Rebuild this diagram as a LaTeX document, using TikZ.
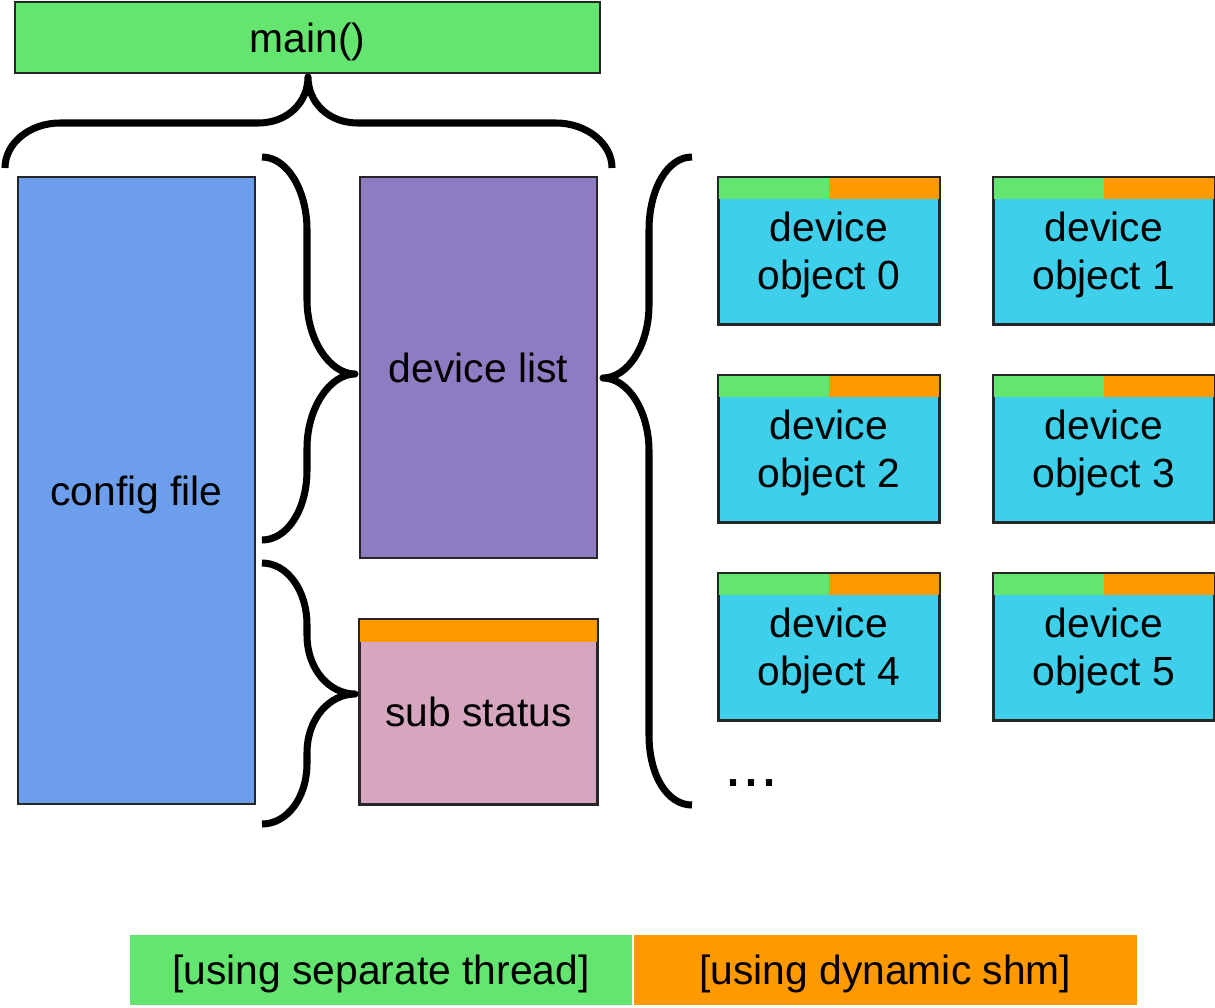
\documentclass[tikz,border=0pt]{standalone}
\usepackage{fontspec}
\setmainfont{Liberation Sans}
\usepackage{tikz}
\usepackage{xcolor}
\usetikzlibrary{positioning}
\definecolor{thread}{HTML}{63E56F}
\definecolor{shm}{HTML}{FF9900}
\definecolor{cfgblue}{HTML}{6D9EEB}
\definecolor{listpurple}{HTML}{8E7CC3}
\definecolor{subpink}{HTML}{D5A6BD}
\definecolor{devcyan}{HTML}{3ECFEB}

\begin{document}
\begin{tikzpicture}[x=0.025cm,y=-0.025cm,
                    box/.style={draw=black!85,line width=1.2pt,inner sep=0pt,text depth=0pt,
                                font=\fontsize{29}{34}\selectfont,align=center},
                    devbox/.style={box,fill=devcyan,minimum width=5.5cm,
                                minimum height=3.65cm,anchor=north west},
                    brace/.style={line width=5pt,line join=round}]
                            % Frame
                            \useasboundingbox (0,0) rectangle (1215,1007);

                            % Blocks
                            \node[box,fill=thread,minimum width=14.625cm,minimum height=1.775cm]
                                        (main) at (307.5,37.5) {main()};
                            \node[box,fill=cfgblue,minimum width=5.925cm,minimum height=15.675cm]
                                        (config) at (136.5,490.5) {config file};
                            \node[box,fill=listpurple,minimum width=5.925cm,minimum height=9.525cm]
                                        (devlist) at (478.5,367.5) {device list};
                            \node[box,fill=subpink,minimum width=5.925cm,minimum height=4.6cm]
                                        (substatus) at (478.5,712) {sub status};
                            \fill[shm] (substatus.north west) rectangle ([yshift=-0.575cm]substatus.north east);
                            \draw[black!85,line width=1.2pt] (substatus.north west) rectangle (substatus.south east);

                            % Device objects
                            \foreach \i/\px/\py in {0/718/177,1/993/177,2/718/375,3/993/375,4/718/573,5/993/573}{
                                \node[devbox] (dev\i) at (\px,\py) {device\\object \i};
                                \fill[thread] (dev\i.north west) rectangle ([yshift=-0.55cm]dev\i.north);
                                \fill[shm] (dev\i.north) rectangle ([yshift=-0.55cm]dev\i.north east);
                                \draw[black!85,line width=1.2pt] (dev\i.north west) rectangle (dev\i.south east);
                            }
                            \node[font=\fontsize{46}{50}\selectfont,anchor=base] (dots) at (751,786) {...};

                            % Braces
                            \draw[brace] (5,168) .. controls +(0,-25) and +(-30,0) .. (60,123)
                                        -- (258,123) .. controls +(30,0) and +(0,25) .. (308,77)
                                        .. controls +(0,25) and +(-30,0) .. (358,123)
                                        -- (556,123) .. controls +(30,0) and +(0,-25) .. (612,168);
                            \draw[brace] (262,157) .. controls +(25,0) and +(0,-40) .. (307,230)
                                        -- (307,300) .. controls +(0,40) and +(-25,0) .. (355,374)
                                        .. controls +(-25,0) and +(0,-40) .. (307,448)
                                        -- (307,470) .. controls +(0,40) and +(25,0) .. (262,540);
                            \draw[brace] (262,563) .. controls +(25,0) and +(0,-35) .. (307,625)
                                        -- (307,635) .. controls +(0,35) and +(-25,0) .. (355,694)
                                        .. controls +(-25,0) and +(0,-35) .. (307,753)
                                        -- (307,763) .. controls +(0,35) and +(25,0) .. (262,824);
                            \draw[brace] (692,157) .. controls +(-25,0) and +(0,-40) .. (649,230)
                                        -- (649,305) .. controls +(0,40) and +(25,0) .. (603,378)
                                        .. controls +(25,0) and +(0,-40) .. (649,451)
                                        -- (649,735) .. controls +(0,40) and +(-25,0) .. (692,805);

                            % Legend
                            \node[box,draw=none,fill=thread,minimum width=12.55cm,minimum height=1.75cm]
                                        (legthread) at (381,970) {[using separate thread]};
                            \node[box,draw=none,fill=shm,minimum width=12.575cm,minimum height=1.75cm,
                                        right=0pt of legthread] (legshm) {[using dynamic shm]};
                      \end{tikzpicture}
\end{document}
